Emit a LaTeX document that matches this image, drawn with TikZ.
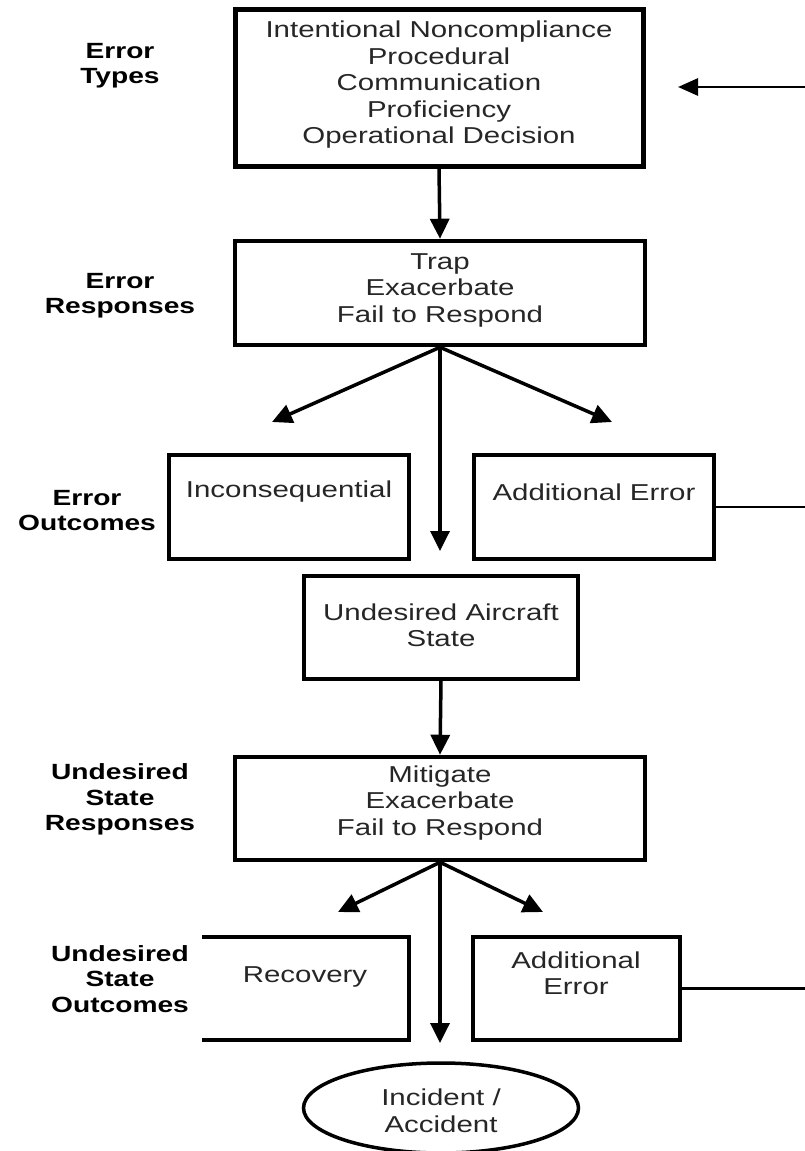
\documentclass[tikz,border=0pt]{standalone}
\usepackage{fontspec}
\setmainfont{Liberation Sans}
\usepackage{graphicx}
\usetikzlibrary{arrows.meta,shapes.geometric}
\newcommand{\sx}[1]{\scalebox{1.28}[1]{#1}}
\tikzset{
  box/.style={draw, line width=4.5pt, inner sep=0pt},
  thinbox/.style={draw, line width=3.5pt, inner sep=0pt},
  txt/.style={font=\fontsize{23}{26.5}\selectfont, text=black!85, align=center, inner sep=0pt},
  lbl/.style={font=\bfseries\fontsize{22}{25.5}\selectfont, align=center, inner sep=0pt},
  conn/.style={line width=3.5pt, -{Triangle[length=20pt,width=19pt]}},
  feed/.style={line width=2.2pt},
  feedarrow/.style={line width=2.8pt, -{Triangle[length=20pt,width=17pt]}},
}
\begin{document}
\begin{tikzpicture}[x=1pt,y=-1pt]
\useasboundingbox (0,0) rectangle (805,1151);

% boxes
\node[box, line width=5pt, minimum width=408, minimum height=157] (types) at (439,87.5) {};
\node[box, minimum width=410, minimum height=104] (trap) at (440,293) {};
\node[box, minimum width=240, minimum height=104] (incon) at (289,507) {};
\node[box, minimum width=240, minimum height=104] (addA) at (594,507) {};
\node[thinbox, minimum width=274, minimum height=103] (uas) at (441,627.5) {};
\node[box, minimum width=410, minimum height=103] (mit) at (440,808.5) {};
\node[inner sep=0pt, minimum width=207, minimum height=103] (rec) at (305.5,988.5) {};
\draw[line width=3.5pt] (rec.north west) -- (rec.north east) -- (rec.south east) -- (rec.south west);
\node[thinbox, minimum width=207, minimum height=103] (addB) at (576.5,988.5) {};
\node[thinbox, ellipse, minimum width=275, minimum height=90] (inc) at (441,1108) {};

% box texts
\node[txt] (typesT) at (439,85) {\sx{Intentional Noncompliance}\\ \sx{Procedural}\\ \sx{Communication}\\ \sx{Proficiency}\\ \sx{Operational Decision}};
\node[txt] (trapT) at (440,290) {\sx{Trap}\\ \sx{Exacerbate}\\ \sx{Fail to Respond}};
\node[txt] (inconT) at (289,492) {\sx{Inconsequential}};
\node[txt] (addAT) at (594,492) {\sx{Additional Error}};
\node[txt] (uasT) at (441,625.5) {\sx{Undesired Aircraft}\\ \sx{State}};
\node[txt] (mitT) at (440,803) {\sx{Mitigate}\\ \sx{Exacerbate}\\ \sx{Fail to Respond}};
\node[txt] (recT) at (305,977) {\sx{Recovery}};
\node[txt] (addBT) at (576,973.5) {\sx{Additional}\\ \sx{Error}};
\node[txt] (incT) at (441,1111) {\sx{Incident /}\\ \sx{Accident}};

% left labels
\node[lbl] (l1) at (120,65.5) {\sx{Error}\\ \sx{Types}};
\node[lbl] (l2) at (120,295.5) {\sx{Error}\\ \sx{Responses}};
\node[lbl] (l3) at (87,510.5) {\sx{Error}\\ \sx{Outcomes}};
\node[lbl] (l4) at (120,799.5) {\sx{Undesired}\\ \sx{State}\\ \sx{Responses}};
\node[lbl] (l5) at (120,979) {\sx{Undesired}\\ \sx{State}\\ \sx{Outcomes}};

% free ends
\coordinate (tL) at (272,422);
\coordinate (tR) at (612,422);
\coordinate (tM) at (440,551);
\coordinate (mL) at (338,912);
\coordinate (mR) at (543,912);
\coordinate (mM) at (440,1043);
\coordinate (eA) at (805,507);
\coordinate (eB) at (805,988.5);
\coordinate (eT) at (805,87);
\coordinate (aT) at (678,87);

% connectors
\draw[conn] (types.south) -- (trap.north);
\draw[conn] (trap.south) -- (tL);
\draw[conn] (trap.south) -- (tR);
\draw[conn] (trap.south) -- (tM);
\draw[conn] (uas.south) -- (mit.north);
\draw[conn] (mit.south) -- (mL);
\draw[conn] (mit.south) -- (mR);
\draw[conn] (mit.south) -- (mM);
\draw[feed] (addA.east) -- (eA);
\draw[feed] (addB.east) -- (eB);
\draw[feedarrow] (eT) -- (aT);
\end{tikzpicture}
\end{document}
